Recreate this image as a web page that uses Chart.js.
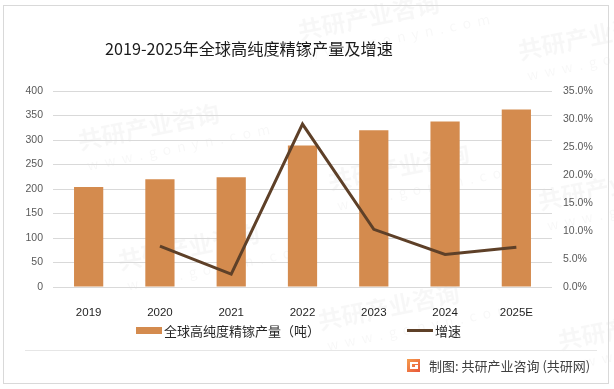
<!DOCTYPE html>
<html>
<head>
<meta charset="utf-8">
<script src="https://cdn.jsdelivr.net/npm/chart.js@4.4.0/dist/chart.umd.min.js"></script>
<style>
  html, body { margin: 0; padding: 0; background: #fff; }
  #wrap { width: 614px; height: 389px; }
</style>
</head>
<body>
<div id="wrap"><canvas id="chart"></canvas></div>
<script>
// chart data
var years = ["2019", "2020", "2021", "2022", "2023", "2024", "2025E"];
var output = [204, 220, 224, 289, 320, 338, 362];
var growth = [null, 7.3, 2.3, 29.1, 10.3, 5.8, 7.1];

var titleText = "2019-2025年全球高纯度精镓产量及增速";
var barLabel = "全球高纯度精镓产量（吨）";
var lineLabel = "增速";
var sourceText = "制图: 共研产业咨询 (共研网)";

var barColor = "#d48b4e";
var lineColor = "#5e4028";
var cjk = "'Noto Sans CJK SC', 'Noto Sans', sans-serif";

// frame, title, legend, footer and watermark
var decor = {
  id: "decor",
  beforeDraw: function (chart) {
    var c = chart.ctx;
    c.save();
    c.fillStyle = "#fff";
    c.fillRect(0, 0, chart.width, chart.height);
    // faint watermark
    c.fillStyle = "rgba(0,0,0,0.03)";
    var spots = [[80, 150], [300, 40], [520, 60], [120, 270], [330, 190], [540, 210], [320, 330], [560, 350]];
    for (var i = 0; i < spots.length; i++) {
      c.save();
      c.translate(spots[i][0], spots[i][1]);
      c.rotate(-0.2);
      c.font = "bold 24px " + cjk;
      c.fillText("共研产业咨询", 0, 0);
      c.font = "14px " + cjk;
      c.fillText("w  w  w  .  g  o  n  y  n  .  c  o  m", 4, 22);
      c.restore();
    }
    c.restore();
  },
  afterDraw: function (chart) {
    var c = chart.ctx;
    c.save();
    // outer frame and footer rule
    c.strokeStyle = "#d9d9d9";
    c.lineWidth = 1;
    c.strokeRect(3.5, 5.5, 605, 378);
    c.strokeStyle = "#e6e6e6";
    c.beginPath();
    c.moveTo(25, 350.5);
    c.lineTo(597, 350.5);
    c.stroke();

    // title
    c.fillStyle = "#1a1a1a";
    c.font = "16.2px " + cjk;
    c.textBaseline = "middle";
    c.textAlign = "left";
    c.fillText(titleText, 105, 49);

    // legend
    c.fillStyle = barColor;
    c.fillRect(136, 327, 26, 7);
    c.fillStyle = "#262626";
    c.font = "13px " + cjk;
    c.fillText(barLabel, 164, 331);
    c.strokeStyle = lineColor;
    c.lineWidth = 3;
    c.beginPath();
    c.moveTo(407, 330.5);
    c.lineTo(433, 330.5);
    c.stroke();
    c.fillText(lineLabel, 435, 331);

    // source logo + text
    var g = c.createLinearGradient(407, 358, 420, 372);
    g.addColorStop(0, "#f6a04d");
    g.addColorStop(1, "#e8563a");
    c.fillStyle = g;
    c.fillRect(407, 359, 13, 13);
    c.fillStyle = "#fff";
    c.fillRect(410, 362, 8, 2);
    c.fillRect(410, 364, 2, 5);
    c.fillRect(412, 367, 6, 2);
    c.fillRect(415, 365, 3, 2);
    c.fillStyle = "#404040";
    c.font = "13px " + cjk;
    c.fillText(sourceText, 429, 366);
    c.restore();
  }
};

var ctx = document.getElementById("chart").getContext("2d");
var chart = new Chart(ctx, {
  data: {
    labels: years,
    datasets: [
      {
        type: "line",
        label: lineLabel,
        data: growth,
        yAxisID: "y1",
        borderColor: lineColor,
        backgroundColor: lineColor,
        borderWidth: 3,
        pointRadius: 0,
        tension: 0,
        order: 0,
      },
      {
        type: "bar",
        label: barLabel,
        data: output,
        yAxisID: "y",
        backgroundColor: barColor,
        categoryPercentage: 1,
        barPercentage: 0.41,
        order: 1,
      },
    ],
  },
  options: {
    responsive: true,
    maintainAspectRatio: false,
    animation: false,
    layout: { padding: { top: 91, left: 0, right: 0, bottom: 0 } },
    plugins: {
      legend: { display: false },
      tooltip: { enabled: false },
    },
    scales: {
      x: {
        grid: { display: false },
        border: { display: false },
        ticks: {
          color: "#1f1f1f",
          font: { family: "'Liberation Sans', sans-serif", size: 11.5 },
          padding: 11,
          maxRotation: 0,
        },
        afterFit: function (s) { s.height = 102; },
      },
      y: {
        position: "left",
        min: 0,
        max: 400,
        grid: { color: "#d9d9d9", drawTicks: false },
        border: { display: false },
        ticks: {
          stepSize: 50,
          color: "#595959",
          font: { family: "'Liberation Sans', sans-serif", size: 10.5 },
          padding: 10,
        },
        afterFit: function (s) { s.width = 53; },
      },
      y1: {
        position: "right",
        min: 0,
        max: 35,
        grid: { display: false, drawTicks: false },
        border: { display: false },
        ticks: {
          stepSize: 5,
          color: "#595959",
          font: { family: "'Liberation Sans', sans-serif", size: 10.5 },
          padding: 11,
          callback: function (v) { return v.toFixed(1) + "%"; },
        },
        afterFit: function (s) { s.width = 62; },
      },
    },
  },
  plugins: [decor],
});
</script>
</body>
</html>
